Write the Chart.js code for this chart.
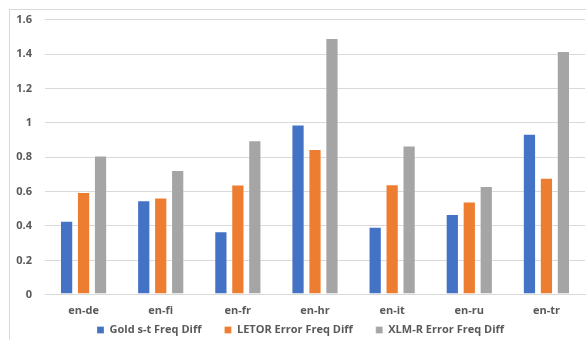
<!DOCTYPE html>
<html>
<head>
<meta charset="utf-8">
<script src="https://cdn.jsdelivr.net/npm/chart.js@4.4.0/dist/chart.umd.min.js"></script>
<style>
  html, body { margin: 0; padding: 0; background: #fff; }
  #wrap { position: relative; width: 586px; height: 340px; }
</style>
</head>
<body>
<div id="wrap"><canvas id="c" width="586" height="340"></canvas></div>
<script>
const categories = ['en-de', 'en-fi', 'en-fr', 'en-hr', 'en-it', 'en-ru', 'en-tr'];
const goldFreqDiff = [0.43, 0.55, 0.37, 0.99, 0.395, 0.47, 0.937];
const letorErrorFreqDiff = [0.597, 0.566, 0.642, 0.847, 0.643, 0.543, 0.68];
const xlmrErrorFreqDiff = [0.81, 0.725, 0.899, 1.493, 0.868, 0.633, 1.418];
const seriesNames = ['Gold s-t Freq Diff', 'LETOR Error Freq Diff', 'XLM-R Error Freq Diff'];
const yTickLabels = ['0', '0.2', '0.4', '0.6', '0.8', '1', '1.2', '1.4', '1.6'];

const textColor = '#595959';
const gridColor = '#d9d9d9';
const fontFamily = '"Open Sans", sans-serif';

const LEGEND_RESERVED = 14;    // vertical space the legend takes from the layout
const LEGEND_ITEM_CENTER = 330;
const LEGEND_SHIFT_X = 8;

const framePlugin = {
  id: 'frame',
  afterInit(chart) {
    const lg = chart.legend;
    if (lg && !lg._wrapped) {
      const fit0 = lg.fit;
      lg.fit = function () { fit0.call(this); this.height = LEGEND_RESERVED; };
      lg._wrapped = true;
    }
  },
  afterLayout(chart) {
    const lg = chart.legend;
    if (!lg) return;
    const pad = lg.options.labels.padding;
    const fs = lg.options.labels.font.size;
    lg.top = LEGEND_ITEM_CENTER - fs / 2 - pad;
    lg.bottom = chart.height;
    lg.height = lg.bottom - lg.top;
    lg.left += LEGEND_SHIFT_X;
    lg.right += LEGEND_SHIFT_X;
  },
  beforeDraw(chart) {
    const ctx = chart.ctx;
    ctx.save();
    ctx.strokeStyle = gridColor;
    ctx.lineWidth = 1;
    ctx.strokeRect(9.5, 9.5, 700, 500);
    ctx.restore();
  }
};

const barBorder = 'rgba(255,255,255,0.3)';

new Chart(document.getElementById('c'), {
  type: 'bar',
  data: {
    labels: categories,
    datasets: [
      { label: seriesNames[0], data: goldFreqDiff, backgroundColor: '#4472C4', borderColor: barBorder, borderWidth: 1, borderSkipped: false },
      { label: seriesNames[1], data: letorErrorFreqDiff, backgroundColor: '#ED7D31', borderColor: barBorder, borderWidth: 1, borderSkipped: false },
      { label: seriesNames[2], data: xlmrErrorFreqDiff, backgroundColor: '#A5A5A5', borderColor: barBorder, borderWidth: 1, borderSkipped: false }
    ]
  },
  options: {
    responsive: false,
    animation: false,
    devicePixelRatio: 1,
    categoryPercentage: 0.66,
    barPercentage: 0.78,
    layout: { padding: { left: 0, right: 1, top: 19, bottom: 0 } },
    scales: {
      x: {
        grid: { display: false, drawTicks: false },
        border: { display: true, color: gridColor, width: 1 },
        ticks: { color: textColor, font: { family: fontFamily, size: 11, weight: 'bold' }, padding: 9 }
      },
      y: {
        min: 0, max: 1.6,
        afterFit(scale) { scale.width = 45; },
        grid: { color: gridColor, lineWidth: 1, drawTicks: false },
        border: { display: false },
        ticks: {
          stepSize: 0.2,
          color: textColor,
          font: { family: fontFamily, size: 11, weight: 'bold' },
          padding: 13,
          callback: (v, i) => yTickLabels[i]
        }
      }
    },
    plugins: {
      legend: {
        position: 'bottom',
        labels: {
          color: textColor,
          font: { family: fontFamily, size: 11, weight: 'bold' },
          boxWidth: 7, boxHeight: 7,
          padding: 23
        }
      },
      tooltip: { enabled: false }
    }
  },
  plugins: [framePlugin]
});
</script>
</body>
</html>
